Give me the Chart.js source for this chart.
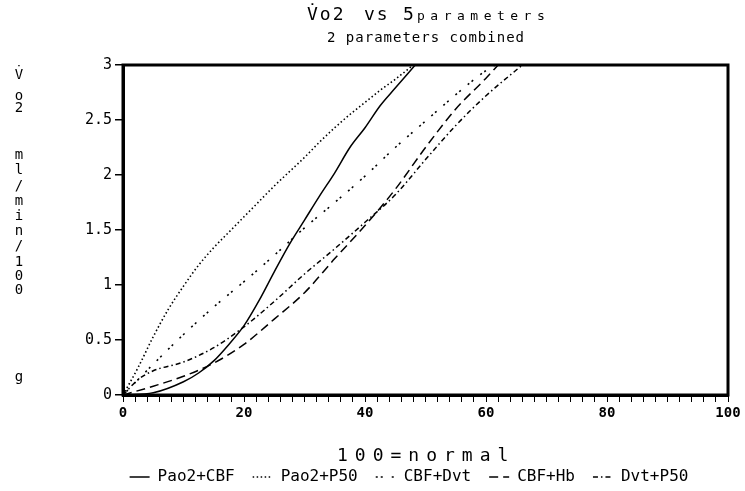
<!DOCTYPE html>
<html>
<head>
<meta charset="utf-8">
<script src="https://cdn.jsdelivr.net/npm/chart.js@4/dist/chart.umd.min.js"></script>
<style>
  html, body { margin: 0; padding: 0; background: #fff; }
</style>
</head>
<body>
<canvas id="vo2-chart" width="745" height="491"></canvas>
<script>
// values (x = % of normal, y = Vo2 ml/min/100g)
const xPao2CBF = [0, 5, 10, 12.5, 15, 17.5, 20, 22.5, 25, 27.5, 30, 32.5, 35, 37.5, 40, 42.5, 45, 48.3];
const yPao2CBF = [0, 0.02, 0.12, 0.2, 0.31, 0.46, 0.63, 0.86, 1.12, 1.37, 1.59, 1.81, 2.02, 2.25, 2.43, 2.63, 2.79, 3.0];

const xPao2P50 = [0, 2.5, 5, 7.5, 10, 12.5, 15, 17.5, 20, 22.5, 25, 27.5, 30, 32.5, 35, 37.5, 40, 42.5, 45, 48];
const yPao2P50 = [0, 0.25, 0.53, 0.78, 0.99, 1.18, 1.34, 1.48, 1.62, 1.76, 1.9, 2.03, 2.16, 2.3, 2.43, 2.55, 2.66, 2.77, 2.87, 3.0];

const xCBFDvt = [0, 5, 10, 15, 20, 25, 30, 35, 40, 45, 50, 55, 60, 61.5];
const yCBFDvt = [0, 0.28, 0.55, 0.8, 1.03, 1.27, 1.52, 1.75, 1.99, 2.25, 2.49, 2.73, 2.95, 3.0];

const xCBFHb = [0, 5, 10, 15, 20, 25, 30, 35, 40, 45, 50, 55, 60, 62];
const yCBFHb = [0, 0.08, 0.17, 0.29, 0.46, 0.69, 0.93, 1.24, 1.54, 1.87, 2.25, 2.6, 2.88, 3.0];

const xDvtP50 = [0, 2.5, 5, 10, 15, 20, 25, 30, 35, 40, 45, 50, 55, 60, 66];
const yDvtP50 = [0, 0.14, 0.22, 0.3, 0.43, 0.62, 0.85, 1.1, 1.33, 1.57, 1.82, 2.14, 2.45, 2.72, 3.0];

const seriesNames = ['Pao2+CBF', 'Pao2+P50', 'CBF+Dvt', 'CBF+Hb', 'Dvt+P50'];
const xMin = 0, xMax = 100, xStep = 2, xLabelEvery = 20;
const yMin = 0, yMax = 3, yStep = 0.5;

const yTitleChars = ['V\u0307', 'o', '2', 'm', 'l', '/', 'm', 'i', 'n', '/', '1', '0', '0', 'g'];
const yTitleRows  = [75, 96, 108, 155, 170, 186, 201, 216, 231, 246, 262, 276, 290, 377];

const MONO = '"DejaVu Sans Mono", "Liberation Mono", monospace';

function pts(xs, ys) {
    return xs.map((x, i) => ({x: x, y: ys[i]}));
}

function lineSet(label, xs, ys, dash, width) {
    return {
        label: label,
        data: pts(xs, ys),
        borderColor: '#000',
        backgroundColor: '#000',
        borderWidth: width,
        borderDash: dash,
        pointRadius: 0,
        pointHoverRadius: 0,
        pointStyle: 'line',
        fill: false,
        cubicInterpolationMode: 'monotone',
    };
}

const plotTop = 65, plotBottom = 395;
const legendShiftX = 16, legendShiftY = 8;

// frame, titles, stacked y title
const decorPlugin = {
    id: 'decor',
    afterLayout(chart) {
        // nudge the legend under the plot like the original
        const lg = chart.legend;
        if (!lg) return;
        lg.left += legendShiftX; lg.right += legendShiftX;
        lg.top += legendShiftY; lg.bottom += legendShiftY;
    },
    afterDraw(chart) {
        const ctx = chart.ctx;
        const a = chart.chartArea;
        ctx.save();
        ctx.strokeStyle = '#000';
        ctx.lineWidth = 3;
        ctx.strokeRect(a.left, a.top, a.right - a.left, a.bottom - a.top);

        ctx.fillStyle = '#000';
        ctx.textBaseline = 'alphabetic';
        ctx.textAlign = 'left';

        ctx.font = '18px ' + MONO;
        ctx.letterSpacing = '2px';
        ctx.fillText('V\u0307o2', 307, 20);
        ctx.fillText('vs', 364, 20);
        ctx.fillText('5', 403, 20);
        ctx.font = '13px ' + MONO;
        ctx.letterSpacing = '5.5px';
        ctx.fillText('parameters', 417, 20);

        ctx.font = '14px ' + MONO;
        ctx.letterSpacing = '1px';
        ctx.fillText('2 parameters combined', 327, 42);

        ctx.font = '18px ' + MONO;
        ctx.letterSpacing = '7px';
        ctx.fillText('100=normal', 337, 461);

        ctx.letterSpacing = '0px';
        ctx.textAlign = 'center';
        ctx.textBaseline = 'middle';
        ctx.font = '14px ' + MONO;
        yTitleChars.forEach((c, i) => ctx.fillText(c, 19, yTitleRows[i]));
        ctx.restore();
    }
};

const vo2Config = {
    type: 'line',
    data: {
        datasets: [
            lineSet(seriesNames[0], xPao2CBF, yPao2CBF, [], 1.5),
            lineSet(seriesNames[1], xPao2P50, yPao2P50, [1.5, 2.5], 1.6),
            lineSet(seriesNames[2], xCBFDvt, yCBFDvt, [2, 3, 2, 9], 1.6),
            lineSet(seriesNames[3], xCBFHb, yCBFHb, [9, 5], 1.5),
            lineSet(seriesNames[4], xDvtP50, yDvtP50, [5, 3, 1.5, 3], 1.5),
        ]
    },
    options: {
        responsive: false,
        animation: false,
        devicePixelRatio: 1,
        layout: {
            padding: {left: 58, right: 17, top: plotTop, bottom: 4}
        },
        plugins: {
            legend: {
                position: 'bottom',
                labels: {
                    usePointStyle: true,
                    pointStyleWidth: 20,
                    color: '#000',
                    padding: 18,
                    font: {family: MONO, size: 16},
                    generateLabels(chart) {
                        const items = Chart.defaults.plugins.legend.labels.generateLabels(chart);
                        items.forEach(it => {
                            const ds = chart.data.datasets[it.datasetIndex];
                            it.lineDash = ds.borderDash;
                            it.lineWidth = ds.borderWidth;
                            it.strokeStyle = '#000';
                        });
                        return items;
                    }
                }
            },
            title: {display: false},
            tooltip: {enabled: false}
        },
        scales: {
            x: {
                type: 'linear',
                min: xMin,
                max: xMax,
                afterFit(scale) {
                    const lg = scale.chart.legend;
                    const lh = lg ? lg.height : 0;
                    scale.height = scale.chart.height - plotBottom - lh - 4;
                },
                border: {display: true, color: '#000', width: 3},
                grid: {display: true, drawOnChartArea: false, drawTicks: true, tickLength: 7, color: '#000', lineWidth: 1},
                ticks: {
                    stepSize: xStep,
                    autoSkip: false,
                    maxRotation: 0,
                    maxTicksLimit: 60,
                    padding: 3,
                    color: '#000',
                    font: {family: MONO, size: 14, weight: 'bold'},
                    callback: v => (v % xLabelEvery === 0 ? String(v) : '')
                }
            },
            y: {
                type: 'linear',
                min: yMin,
                max: yMax,
                afterFit(scale) { scale.width = 123 - 58; },
                border: {display: true, color: '#000', width: 3},
                grid: {display: true, drawOnChartArea: false, drawTicks: true, tickLength: 8, color: '#000', lineWidth: 1.5},
                ticks: {
                    stepSize: yStep,
                    padding: 3,
                    color: '#000',
                    font: {family: MONO, size: 15},
                    callback: v => String(Number(v.toFixed(1)))
                }
            }
        }
    },
    plugins: [decorPlugin]
};

const vo2Chart = new Chart(document.getElementById('vo2-chart'), vo2Config);
</script>
</body>
</html>
